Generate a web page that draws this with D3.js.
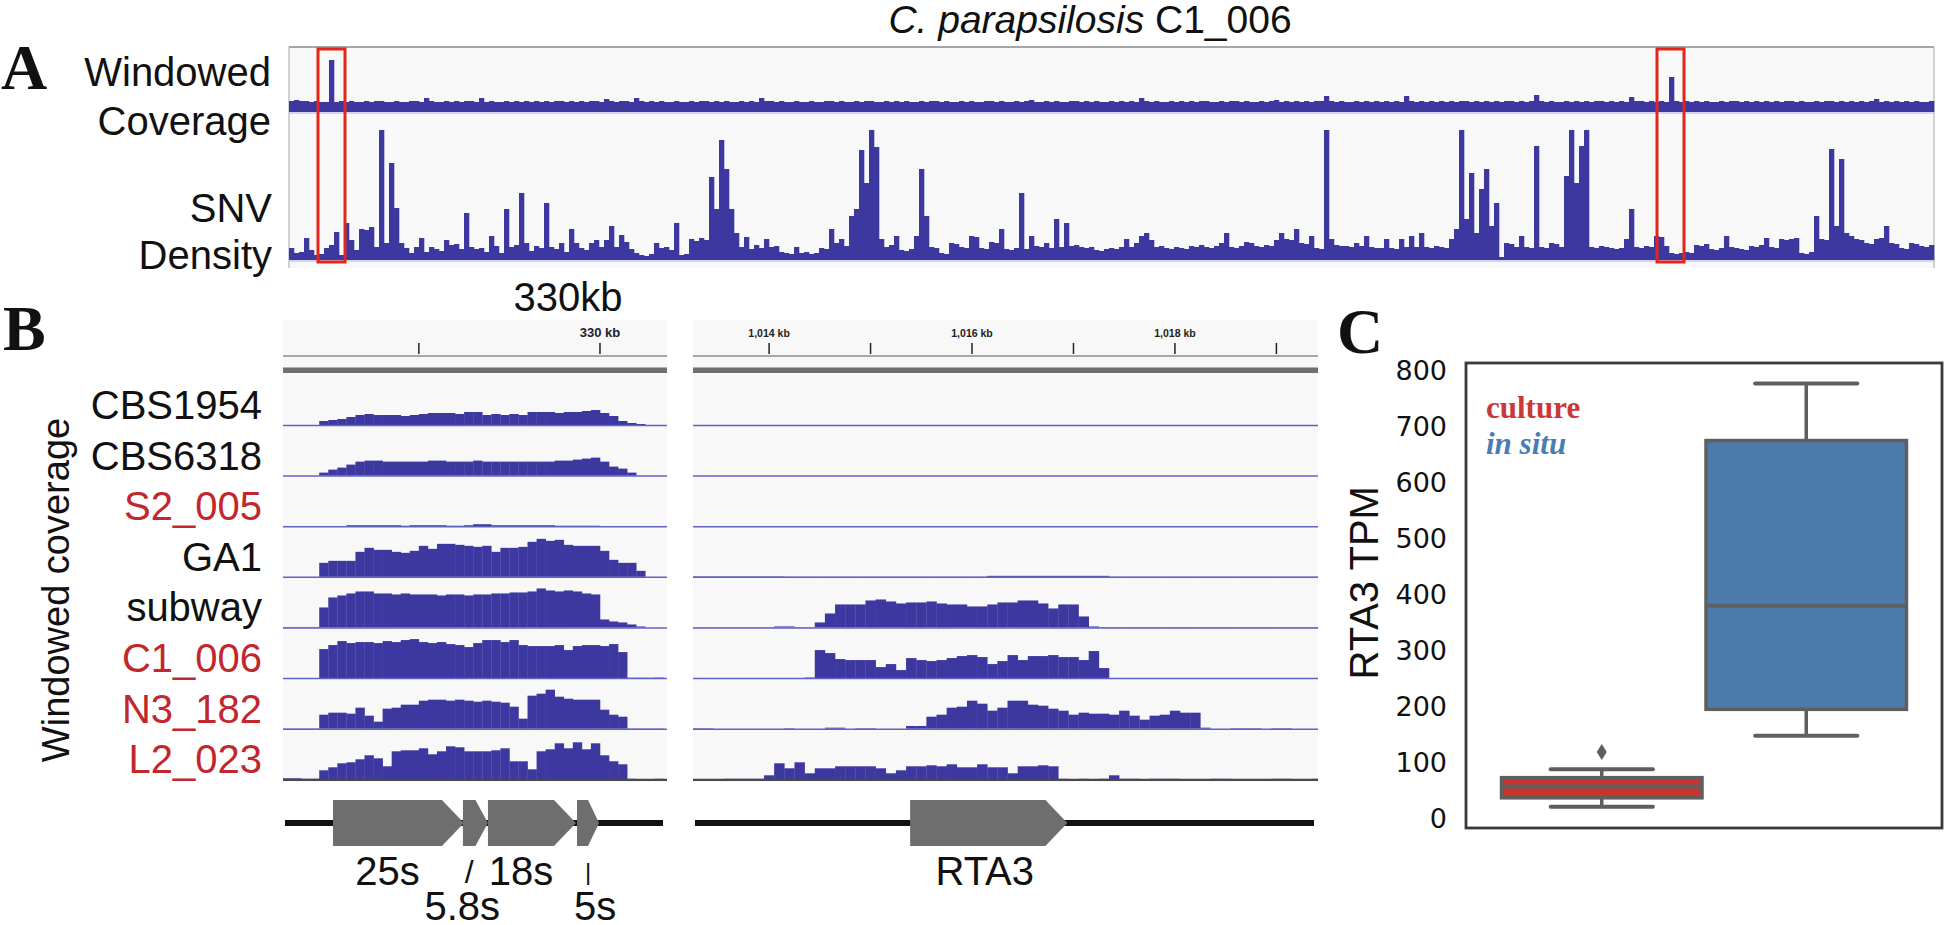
<!DOCTYPE html>
<html><head><meta charset="utf-8">
<script src="https://cdn.jsdelivr.net/npm/d3@7"></script>
<style>body{margin:0;background:#fff}svg{display:block}</style>
</head><body>
<svg id="fig" width="1947" height="925"></svg>
<script>
// ---------------- DATA ----------------
// Panel A: chromosome-wide windows (bin index along the contig)
const snvDensity = [
12,7,8,22,10,5,6,12,15,28, 5,37,20,10,31,30,33,13,130,17, 97,52,17,12,7,13,22,8,13,11,
9,20,15,16,11,47,13,11,12,8, 24,14,7,51,13,15,67,17,9,14, 12,57,13,11,17,8,31,17,12,10,
17,20,13,20,34,13,25,18,11,7, 5,4,6,17,12,13,10,37,5,6, 21,19,22,20,83,51,120,91,51,27,
13,23,11,15,12,21,13,14,8,7, 6,13,7,8,6,7,12,11,31,17, 21,14,44,51,110,77,130,113,21,13,
15,24,10,9,11,24,91,44,13,12, 7,6,17,16,13,12,24,23,12,11, 18,17,31,11,10,12,67,11,24,14,
13,17,12,41,13,37,14,15,13,12, 13,10,9,11,12,11,13,21,13,17, 24,27,20,13,14,12,11,13,12,11,
14,13,15,13,12,14,17,27,13,12, 14,18,17,14,13,15,14,20,27,21, 20,31,17,16,24,12,11,130,21,15,
14,14,13,17,14,24,13,12,12,21, 12,11,21,13,24,13,27,13,12,14, 13,12,21,31,130,41,87,27,71,91,
34,57,3,17,16,13,24,13,12,114, 13,12,17,16,13,84,130,77,114,130, 13,12,14,13,12,11,12,21,51,13,
12,14,13,24,23,14,7,6,7,8, 7,15,14,16,11,10,12,24,13,12, 11,10,14,13,15,22,13,12,21,20,
21,22,7,6,8,44,21,20,111,34, 101,27,24,21,20,17,16,21,22,34, 17,16,12,11,17,16,14,13,15];

const windowCoverage = [
11,12,11,11,10,11,10,10,52,10, 11,10,11,10,10,11,10,11,11,10, 10,11,10,10,11,11,10,14,11,10,
10,11,10,11,10,11,11,10,14,10, 11,10,10,11,10,11,10,11,10,11, 10,11,10,11,11,10,11,10,11,10,
11,11,10,13,11,10,11,11,10,14, 11,10,11,10,11,10,10,11,10,10, 11,10,11,11,10,11,10,11,10,10,
11,10,11,10,14,11,11,10,11,10, 10,11,10,10,11,10,10,11,11,10, 11,10,10,11,10,11,11,10,10,11,
10,11,10,11,10,10,11,10,11,11, 10,11,10,10,11,10,11,10,10,11, 11,10,11,10,10,11,10,11,12,10,
10,11,10,11,10,10,11,11,10,11, 10,11,10,10,11,10,11,10,11,10, 14,11,10,11,10,10,11,10,11,10,
11,10,11,11,10,10,11,10,11,11, 10,11,10,10,11,10,11,12,10,11, 10,11,10,11,10,11,11,16,11,10,
11,10,10,11,10,11,10,11,10,11, 10,11,10,16,11,10,11,10,11,10, 11,10,11,10,11,11,10,11,10,11,
10,11,10,11,11,10,11,10,11,17, 11,10,11,10,10,11,10,11,10,11, 10,11,11,10,11,10,11,10,15,11,
11,10,11,10,11,10,35,11,10,11, 10,11,10,11,10,10,11,10,11,11, 10,11,10,11,10,11,10,11,10,11,
11,10,11,10,10,11,10,11,11,10, 11,10,11,10,11,10,11,13,10,11, 10,11,10,11,10,11,10,10,11];

// highlighted windows (bin index ranges) : 330 kb and 1,016 kb
const highlightBins = [[5.8, 11.2], [273.6, 279.0]];

// Panel B
const strains = ["CBS1954", "CBS6318", "S2_005", "GA1", "subway", "C1_006", "N3_182", "L2_023"];
const redStrains = ["S2_005", "C1_006", "N3_182", "L2_023"];
const rdnaStartKb = 326.5, rdnaEndKb = 330.74, binKb = 0.1;
const rta3StartKb = 1013.25, rta3EndKb = 1019.41;
const rdnaTicks = [328, 330];
const rdnaTickLabels = ["", "330 kb"];
const rta3Ticks = [1014, 1015, 1016, 1017, 1018, 1019];
const rta3TickLabels = ["1,014 kb", "", "1,016 kb", "", "1,018 kb", ""];

// coverage at the rDNA locus (0.1 kb windows)
const covRDNA = [
 [0,0,0,0,4,5,6,8,10,11,10,10,10,9,10,11,12,12,12,11,13,13,10,11,10,11,10,13,13,13,12,13,13,14,15,12,9,4,2,1,0,0],
 [0,0,0,0,3,6,8,11,14,15,15,14,14,14,14,14,15,15,14,14,14,15,14,14,14,14,14,14,14,14,15,15,16,17,18,14,9,7,3,0,0,0],
 [0,0,0,0,0,0,0,1,1,1,1,1,1,0.5,1,1,1,1,0.5,0.5,1,2,2,1,1,1,1,1,1,1,0.5,0.5,0.5,0.5,0.5,0,0,0,0,0,0,0],
 [0,0,0,0,14,16,16,16,25,29,27,27,25,24,26,31,28,33,33,32,31,30,31,25,29,29,30,35,38,36,37,32,31,31,31,26,17,14,14,6,0,0],
 [0.5,0.5,0.5,0.5,20,30,32,34,36,36,34,34,33,34,33,33,33,32,33,33,32,33,33,34,34,35,35,36,39,37,36,37,36,34,33,8,6,5,3,1,0,0],
 [0,0,0,0,29,33,37,35,36,36,35,37,36,38,39,36,35,36,34,33,31,35,38,38,36,38,33,32,32,32,33,28,32,33,33,32,34,26,0.3,0.3,0.3,0.5],
 [0.3,0.3,0.3,0.3,14,16,16,15,21,13,7,20,21,24,24,28,29,29,28,29,28,27,28,27,26,22,10,33,35,39,32,30,29,29,29,19,14,12,0.3,0.3,0.3,0.3],
 [1,1,0.5,0.5,9,12,16,17,20,24,21,13,28,29,29,31,25,28,33,32,28,28,28,29,31,18,18,10,28,30,36,31,37,30,36,24,18,15,0.5,0.3,0,0.5]
];
// coverage at the RTA3 locus (0.1 kb windows)
const covRTA3 = [
 [],
 [],
 [],
 [0.5,0.5,0.5,0.5,0.5,0.5,0.5,0.5,0.5,0.2,0.2,0.2,0.2,0.2,0.2,0.2,0.2,0.2,0.2,0.2,0.2,0.2,0.2,0.2,0.2,0.2,0.2,0.2,0.2,1,1,1,1,1,1,1,1,1,1,1,1,0.2,0.2,0.2,0.2,0.2,0.2,0.2,0.2,0.2,0.2,0.2,0.2,0.2,0.2,0.2,0.2,0.2,0.2,0.2,0.2,0.2],
 [0.3,0.3,0.3,0.3,0.3,0.3,0.3,0.3,1,1,0.3,0.3,5,14,23,23,23,27,28,26,24,25,25,26,24,23,23,21,21,23,25,25,27,27,24,19,23,23,11,1,0.4,0.4,0.4,0.4,0.4,0.4,0.4,0.4,0.4,0.4,0.4,0.4,0.4,0.4,0.4,0.4,0.4,0.4,0.4,0.4,0.4,0.4],
 [0,0,0,0,0,0,0,0,0,0,0,0.5,28,25,19,18,18,18,11,14,8,20,18,17,18,20,22,23,21,14,17,23,18,22,22,23,21,21,18,27,10,0,0,0,0,0,0,0,0,0,0,0,0,0,0,0,0,0,0,0,0,0],
 [0.5,0.5,0,0,0,0,0,0,0,0.5,0,0,0,1,1,0,0.5,0.5,0,0,0,2.7,2.7,12,14,21,22,28,25,18,21,28,28,24,23,20,18,14,16,15,15,14,18,13,9,13,14,18,16,16,1,0,0,0.5,0.5,0.5,0,0.5,0.5,0,0,0],
 [0,0,0,0.5,0.5,0.5,0.5,4,16,11,17,6,11,11,13,13,13,13,11,6,9,13,13,14,13,15,12,12,15,12,12,6,13,13,14,13,0.5,0.3,0.5,0,0.5,4,0.5,0.5,0.3,0.5,0.5,0.5,0.3,0.3,0,0.5,0.5,0,0.3,0.3,0,0.5,0.5,0,0.3,0.5]
];
const genesRDNA = [
  {name: "25s", start: 327.052, end: 328.498},
  {name: "5.8s", start: 328.487, end: 328.763},
  {name: "18s", start: 328.763, end: 329.735},
  {name: "5s", start: 329.746, end: 329.990}
];
const genesRTA3 = [{name: "RTA3", start: 1015.39, end: 1016.94}];

// Panel C: RTA3 TPM boxplots  [whisker low, Q1, median, Q3, whisker high]
const groups = ["culture", "in situ"];
const boxStats = [[20, 36, 56, 72, 87], [147, 194, 379, 674, 776]];
const outliers = [[118], []];
const yTicksC = [0, 100, 200, 300, 400, 500, 600, 700, 800];

// ---------------- DRAWING ----------------
const svg = d3.select("#fig");
const SANS = "'Liberation Sans', Arial, Helvetica, sans-serif";
const SERIF = "'Liberation Serif', 'Times New Roman', serif";
const BAR = "#3d38a0";
const REDTXT = "#c1272d";

svg.append("rect").attr("width", 1947).attr("height", 925).attr("fill", "#fff");

function panelLetter(t, x, y) {
  svg.append("text").attr("x", x).attr("y", y).text(t)
    .attr("font-family", SERIF).attr("font-weight", "bold").attr("font-size", 64).attr("fill", "#111");
}
function label(t, x, y, opts = {}) {
  return svg.append("text").attr("x", x).attr("y", y).text(t)
    .attr("font-family", SANS).attr("font-size", opts.size || 40)
    .attr("text-anchor", opts.anchor || "end").attr("fill", opts.fill || "#111");
}

// ===== Panel A =====
panelLetter("A", 1, 89);
const title = svg.append("text").attr("x", 1090).attr("y", 33).attr("text-anchor", "middle")
  .attr("font-family", SANS).attr("font-size", 39).attr("fill", "#111");
title.append("tspan").attr("font-style", "italic").text("C. parapsilosis");
title.append("tspan").text(" C1_006");

label("Windowed", 271, 86); label("Coverage", 271, 135);
label("SNV", 272, 222); label("Density", 272, 269);

const xA = d3.scaleLinear().domain([0, snvDensity.length]).range([289, 1934]);
const yCov = d3.scaleLinear().domain([0, 65]).range([112, 47]);
const ySnv = d3.scaleLinear().domain([0, 131]).range([260, 129]);

svg.append("rect").attr("x", xA(0)).attr("y", 47).attr("width", xA(snvDensity.length) - xA(0)).attr("height", 221).attr("fill", "#f8f8f8");
svg.append("line").attr("x1", xA(0)).attr("x2", xA(snvDensity.length)).attr("y1", 47).attr("y2", 47).attr("stroke", "#8a8a8a").attr("stroke-width", 1.5);
[0, snvDensity.length].forEach(v => svg.append("line").attr("x1", xA(v)).attr("x2", xA(v)).attr("y1", 47).attr("y2", 268).attr("stroke", "#b5b5b5").attr("stroke-width", 1.2));
svg.append("line").attr("x1", xA(0)).attr("x2", xA(snvDensity.length)).attr("y1", yCov(0) + 1).attr("y2", yCov(0) + 1).attr("stroke", "#c8c8e6").attr("stroke-width", 1.5);
svg.append("line").attr("x1", xA(0)).attr("x2", xA(snvDensity.length)).attr("y1", ySnv(0) + 1).attr("y2", ySnv(0) + 1).attr("stroke", "#c8c8e6").attr("stroke-width", 1.5);

svg.append("g").selectAll("rect").data(windowCoverage).join("rect")
  .attr("x", (d, i) => xA(i)).attr("width", (d, i) => xA(i + 1) - xA(i) + 0.3)
  .attr("y", d => yCov(d)).attr("height", d => yCov(0) - yCov(d)).attr("fill", BAR);
svg.append("g").selectAll("rect").data(snvDensity).join("rect")
  .attr("x", (d, i) => xA(i)).attr("width", (d, i) => xA(i + 1) - xA(i) + 0.3)
  .attr("y", d => ySnv(d)).attr("height", d => ySnv(0) - ySnv(d)).attr("fill", BAR);
svg.append("g").selectAll("rect").data(highlightBins).join("rect")
  .attr("x", d => xA(d[0])).attr("width", d => xA(d[1]) - xA(d[0]))
  .attr("y", 49).attr("height", 213).attr("fill", "none").attr("stroke", "#e2261c").attr("stroke-width", 3);

// ===== Panel B =====
panelLetter("B", 3, 350);
label("330kb", 568, 311, {anchor: "middle"});
svg.append("text").attr("transform", "translate(69,590) rotate(-90)").attr("text-anchor", "middle")
  .attr("font-family", SANS).attr("font-size", 38).attr("fill", "#111").text("Windowed coverage");

const xL = d3.scaleLinear().domain([rdnaStartKb, rdnaEndKb]).range([283, 667]);
const xR = d3.scaleLinear().domain([rta3StartKb, rta3EndKb]).range([693, 1318]);
const trackBase = d3.scaleLinear().domain([0, strains.length - 1]).range([425, 779.3]);
const hB = d3.scaleLinear().domain([0, 45]).range([0, 45]);

function igvPanel(xs, startKb, endKb, ticks, tickLabels, cov, labelSize) {
  const x0 = xs(startKb), x1 = xs(endKb);
  svg.append("rect").attr("x", x0).attr("y", 320).attr("width", x1 - x0).attr("height", 462).attr("fill", "#f8f8f8");
  // ruler
  svg.append("line").attr("x1", x0).attr("x2", x1).attr("y1", 356).attr("y2", 356).attr("stroke", "#8c8c9a").attr("stroke-width", 1.6);
  svg.append("rect").attr("x", x0).attr("y", 367.5).attr("width", x1 - x0).attr("height", 5.5).attr("fill", "#6f6f6f");
  const g = svg.append("g");
  ticks.forEach((t, i) => {
    g.append("line").attr("x1", xs(t)).attr("x2", xs(t)).attr("y1", 343).attr("y2", 354).attr("stroke", "#222").attr("stroke-width", 1.5);
    if (tickLabels[i]) g.append("text").attr("x", xs(t)).attr("y", 337).attr("text-anchor", "middle")
      .attr("font-family", SANS).attr("font-weight", "bold").attr("font-size", labelSize).attr("fill", "#222").text(tickLabels[i]);
  });
  // tracks
  strains.forEach((s, k) => {
    const base = trackBase(k);
    const vals = cov[k];
    svg.append("g").selectAll("rect").data(vals).join("rect")
      .attr("x", (d, i) => xs(startKb + binKb * i))
      .attr("width", (d, i) => Math.min(xs(startKb + binKb * (i + 1)), x1) - xs(startKb + binKb * i) + 0.3)
      .attr("y", d => base - hB(d)).attr("height", d => hB(d)).attr("fill", BAR);
    const last = k === strains.length - 1;
    svg.append("line").attr("x1", x0).attr("x2", x1).attr("y1", base + 0.5).attr("y2", base + 0.5)
      .attr("stroke", last ? "#4a4a4a" : "#6262c6").attr("stroke-width", last ? 2.2 : 1.5);
  });
}
igvPanel(xL, rdnaStartKb, rdnaEndKb, rdnaTicks, rdnaTickLabels, covRDNA, 13);
igvPanel(xR, rta3StartKb, rta3EndKb, rta3Ticks, rta3TickLabels, covRTA3, 10.5);

strains.forEach((s, k) => {
  label(s, 262, trackBase(k) - 6, {fill: redStrains.includes(s) ? REDTXT : "#111"});
});

// gene tracks
const geneY = 823, geneH = 46;
function arrowPath(xa, xb) {
  const tip = Math.min(22, (xb - xa) * 0.5);
  return `M${xa},${geneY - geneH / 2}L${xb - tip},${geneY - geneH / 2}L${xb},${geneY}L${xb - tip},${geneY + geneH / 2}L${xa},${geneY + geneH / 2}Z`;
}
[[xL, rdnaStartKb, rdnaEndKb, genesRDNA], [xR, rta3StartKb, rta3EndKb, genesRTA3]].forEach(([xs, a, b, genes]) => {
  svg.append("line").attr("x1", xs(a) + 2).attr("x2", xs(b) - 4).attr("y1", geneY).attr("y2", geneY).attr("stroke", "#111").attr("stroke-width", 6);
  svg.append("g").selectAll("path").data(genes).join("path")
    .attr("d", d => arrowPath(xs(d.start), xs(d.end))).attr("fill", "#6e6e6e");
});
// gene names
const g25 = genesRDNA[0], g58 = genesRDNA[1], g18 = genesRDNA[2], g5 = genesRDNA[3];
const boxMid = (xs, d) => (xs(d.start) + xs(d.end) - Math.min(22, (xs(d.end) - xs(d.start)) * 0.5)) / 2;
label(g25.name, boxMid(xL, g25), 885, {anchor: "middle"});
label(g18.name, boxMid(xL, g18), 885, {anchor: "middle"});
label("/", boxMid(xL, g58), 883, {anchor: "middle", size: 32});
label("|", (xL(g5.start) + xL(g5.end)) / 2, 880, {anchor: "middle", size: 24});
label(g58.name, boxMid(xL, g58) - 7, 920, {anchor: "middle"});
label(g5.name, (xL(g5.start) + xL(g5.end)) / 2 + 7, 920, {anchor: "middle"});
label(genesRTA3[0].name, boxMid(xR, genesRTA3[0]) + 7, 885, {anchor: "middle"});

// ===== Panel C =====
panelLetter("C", 1337, 353);
const yC = d3.scaleLinear().domain([-17.9, 812.5]).range([828, 363]);
const xC = d3.scaleBand().domain(groups).range([1466, 1942]).paddingInner(0).paddingOuter(0.164);
const boxColors = ["#c9352e", "#4b7bab"];
const EDGE = "#5f5f5f";

svg.append("g").selectAll("text").data(yTicksC).join("text")
  .attr("x", 1447).attr("y", d => yC(d)).attr("dy", "0.36em").attr("text-anchor", "end")
  .attr("font-family", "'DejaVu Sans', Verdana, sans-serif").attr("font-size", 27).attr("fill", "#111").text(d => d);
svg.append("text").attr("transform", `translate(1378,${yC(420)}) rotate(-90)`).attr("text-anchor", "middle")
  .attr("font-family", SANS).attr("font-size", 40).attr("fill", "#111").text("RTA3 TPM");

const bw = xC.bandwidth();
groups.forEach((gname, i) => {
  const [lo, q1, med, q3, hi] = boxStats[i];
  const cx = xC(gname) + bw / 2;
  const g = svg.append("g");
  g.append("line").attr("x1", cx).attr("x2", cx).attr("y1", yC(q3)).attr("y2", yC(hi)).attr("stroke", EDGE).attr("stroke-width", 3.5);
  g.append("line").attr("x1", cx).attr("x2", cx).attr("y1", yC(q1)).attr("y2", yC(lo)).attr("stroke", EDGE).attr("stroke-width", 3.5);
  [lo, hi].forEach(v => g.append("line").attr("x1", cx - bw / 4).attr("x2", cx + bw / 4).attr("y1", yC(v)).attr("y2", yC(v))
    .attr("stroke", EDGE).attr("stroke-width", 4).attr("stroke-linecap", "round"));
  g.append("rect").attr("x", xC(gname) + 2).attr("width", bw - 4).attr("y", yC(q3)).attr("height", yC(q1) - yC(q3))
    .attr("fill", boxColors[i]).attr("stroke", EDGE).attr("stroke-width", 3.5);
  g.append("line").attr("x1", xC(gname) + 2).attr("x2", xC(gname) + bw - 2).attr("y1", yC(med)).attr("y2", yC(med)).attr("stroke", EDGE).attr("stroke-width", 4);
  g.selectAll("path").data(outliers[i]).join("path")
    .attr("d", d => `M${cx},${yC(d) - 8}L${cx + 5},${yC(d)}L${cx},${yC(d) + 8}L${cx - 5},${yC(d)}Z`).attr("fill", EDGE);
});
svg.append("rect").attr("x", 1466).attr("y", 363).attr("width", 476).attr("height", 465)
  .attr("fill", "none").attr("stroke", "#3a3a3a").attr("stroke-width", 2.8);

svg.append("text").attr("x", 1486).attr("y", 418).attr("font-family", SERIF).attr("font-weight", "bold")
  .attr("font-size", 31).attr("fill", "#c83a38").text(groups[0]);
svg.append("text").attr("x", 1486).attr("y", 454).attr("font-family", SERIF).attr("font-weight", "bold").attr("font-style", "italic")
  .attr("font-size", 31).attr("fill", "#4a7db3").text(groups[1]);
</script>
</body></html>
